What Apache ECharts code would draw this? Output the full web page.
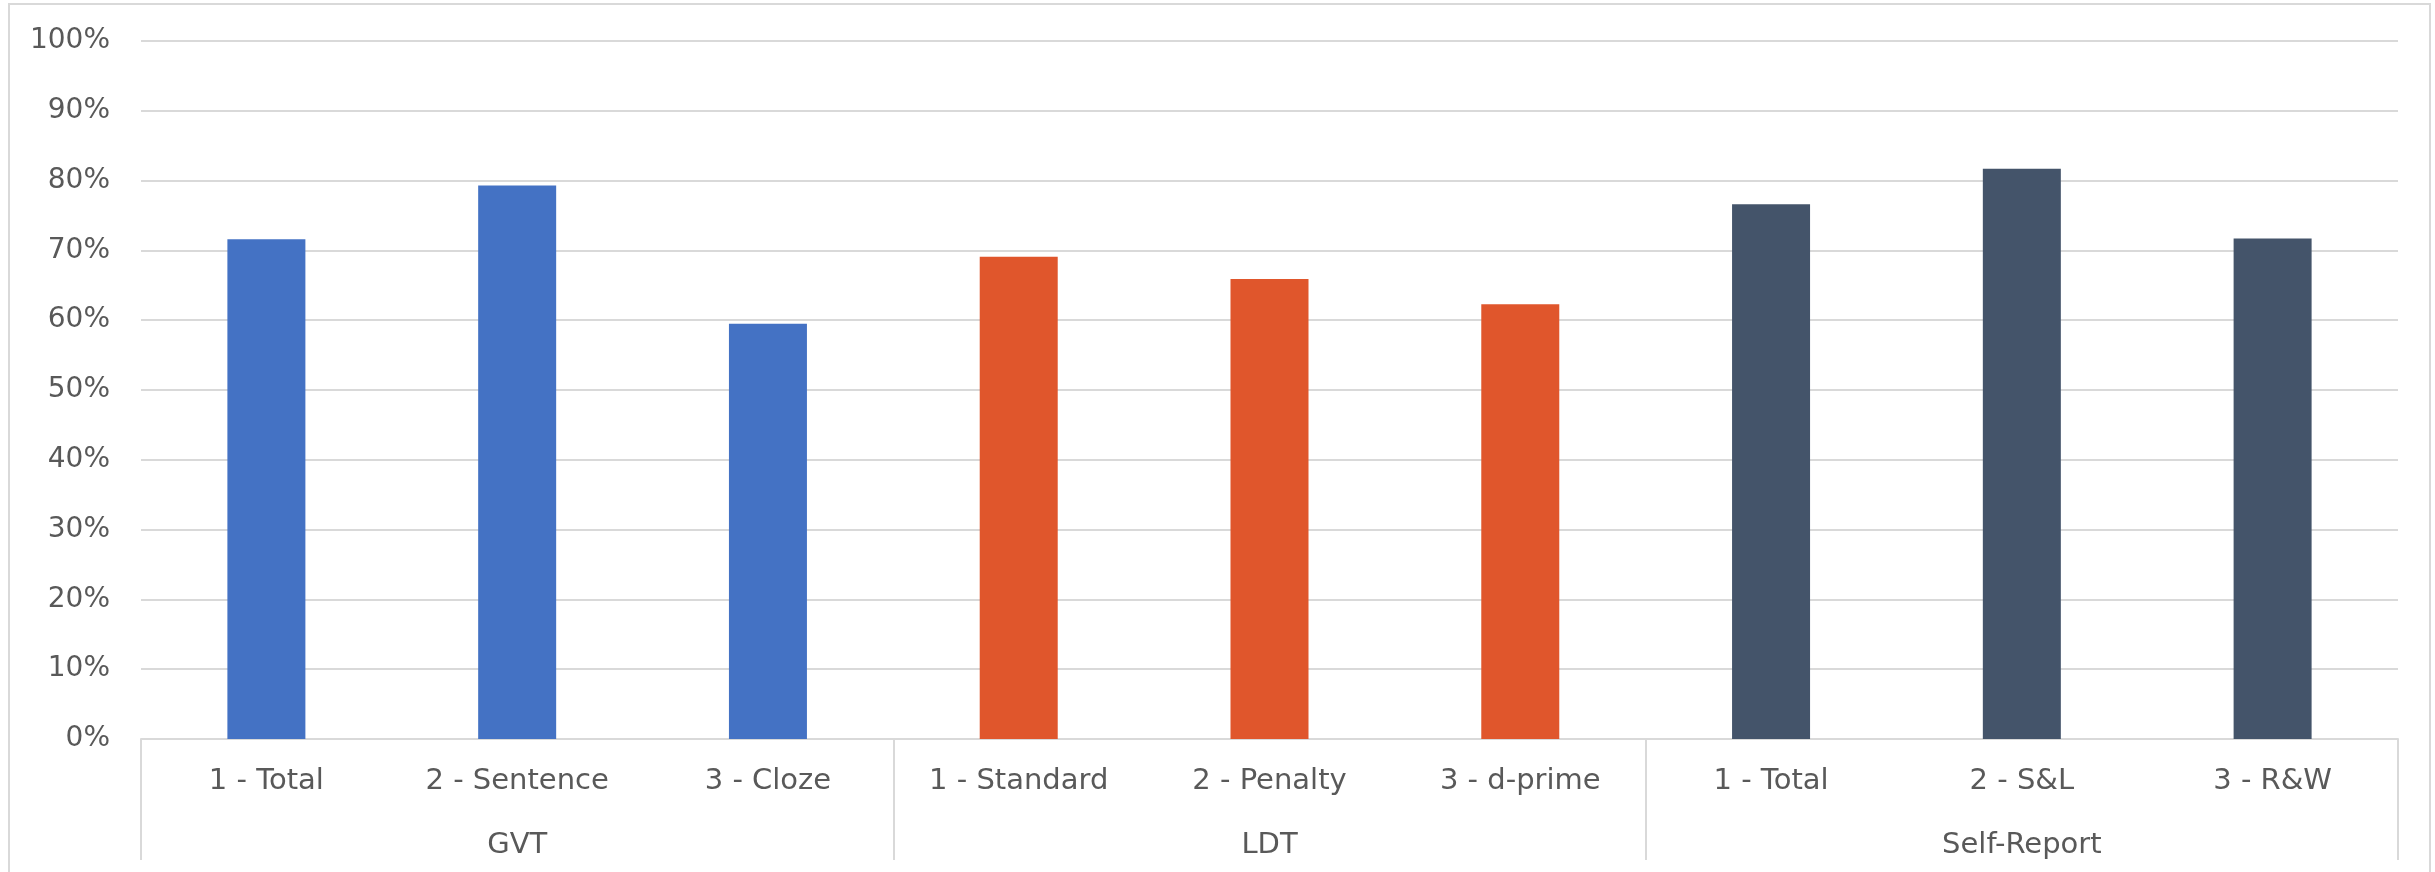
<!DOCTYPE html>
<html>
<head>
<meta charset="utf-8">
<script src="https://cdn.jsdelivr.net/npm/echarts@6/dist/echarts.min.js"></script>
<style>
  html, body { margin: 0; padding: 0; background: #fff; }
  #main { width: 2435px; height: 872px; }
</style>
</head>
<body>
<div id="main"></div>
<script>
// sub-category labels, one per bar
const subLabels = ['1 - Total', '2 - Sentence', '3 - Cloze',
  '1 - Standard', '2 - Penalty', '3 - d-prime',
  '1 - Total', '2 - S&L', '3 - R&W']
// group labels under the sub-categories
const groups = ['GVT', 'LDT', 'Self-Report']
// which group each bar belongs to
const barGroup = [0, 0, 0, 1, 1, 1, 2, 2, 2]
// bar values (share, 0..1)
const values = [0.716, 0.793, 0.595, 0.691, 0.659, 0.623, 0.766, 0.817, 0.717]
const groupColors = ['#4472C4', '#E0562C', '#44546A']

const labelColor = '#595959'
const gridColor = '#D9D9D9'
const font = 'DejaVu Sans'

const chart = echarts.init(document.getElementById('main'))
chart.setOption({
  backgroundColor: '#fff',
  animation: false,
  graphic: [{
    type: 'rect',
    shape: { x: 9, y: 4, width: 2421, height: 900 },
    style: { fill: 'none', stroke: gridColor, lineWidth: 2 },
    silent: true
  }],
  grid: { left: 141, right: 37, top: 41, bottom: 133 },
  xAxis: [
    {
      type: 'category',
      data: subLabels,
      position: 'bottom',
      axisLine: { show: true, lineStyle: { color: gridColor, width: 2 } },
      axisTick: { show: false },
      axisLabel: { margin: 28, fontSize: 29, color: labelColor, fontFamily: font, interval: 0 }
    },
    {
      type: 'category',
      data: groups,
      position: 'bottom',
      axisLine: { show: false },
      axisTick: { show: true, length: 121, lineStyle: { color: gridColor, width: 2 } },
      axisLabel: { margin: 92, fontSize: 29, color: labelColor, fontFamily: font, interval: 0 }
    }
  ],
  yAxis: {
    type: 'value',
    min: 0,
    max: 1,
    interval: 0.1,
    axisLine: { show: false },
    axisTick: { show: false },
    splitLine: { lineStyle: { color: gridColor, width: 2 } },
    axisLabel: {
      margin: 31,
      fontSize: 28,
      color: labelColor,
      fontFamily: font,
      formatter: v => Math.round(v * 100) + '%'
    }
  },
  series: [{
    type: 'bar',
    xAxisIndex: 0,
    barWidth: 78,
    data: values.map((v, i) => ({ value: v, itemStyle: { color: groupColors[barGroup[i]] } }))
  }]
})
</script>
</body>
</html>
